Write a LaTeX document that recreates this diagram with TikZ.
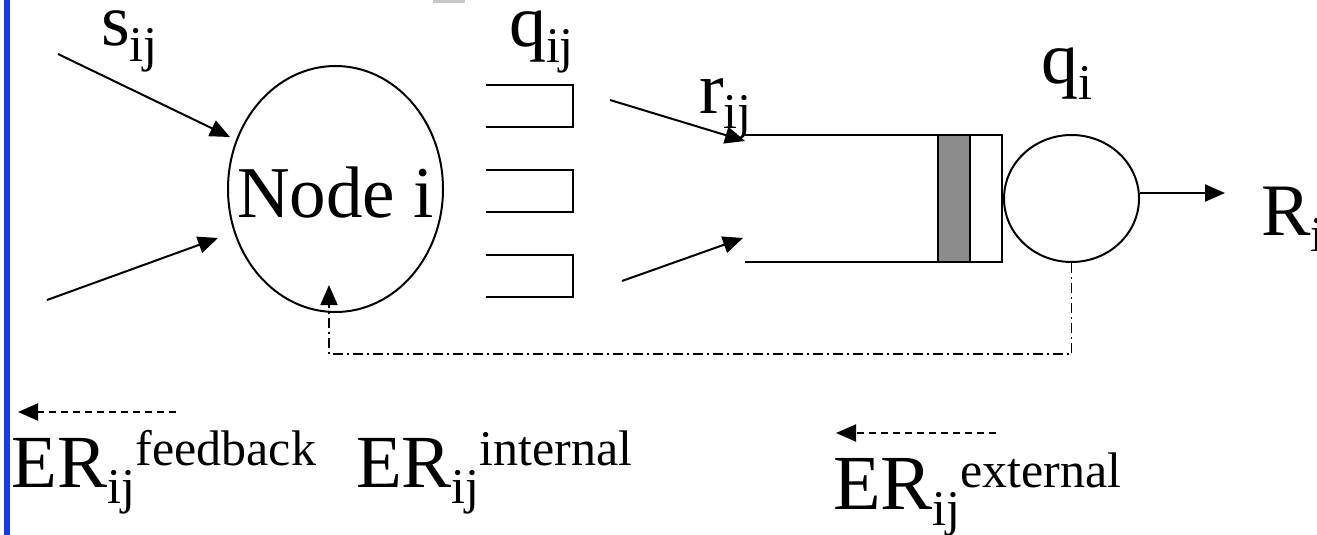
\documentclass[tikz,border=0pt]{standalone}
\usepackage{fontspec}
\setmainfont{Liberation Serif}
\usetikzlibrary{arrows.meta,shapes.geometric}
\newcommand\sbx[1]{\raisebox{-16pt}{\fontsize{50}{50}\selectfont #1}}
\newcommand\spx[1]{\raisebox{22pt}{\fontsize{50}{50}\selectfont #1}}
\definecolor{edgeblue}{RGB}{20,60,230}
\definecolor{bargray}{RGB}{140,140,140}
\definecolor{topgray}{RGB}{200,200,200}
\begin{document}
\begin{tikzpicture}[x=1pt,y=-1pt,line width=2pt,
  lbl/.style={inner sep=0pt,anchor=base west,font=\fontsize{74}{80}\selectfont},
  erlbl/.style={inner sep=0pt,anchor=base west,font=\fontsize{75}{84}\selectfont},
  arr/.style={-{Triangle[length=20pt,width=17pt]}},
  dasharr/.style={arr,dash pattern=on 7pt off 5pt},
  dashdotline/.style={dash pattern=on 10pt off 4pt on 2pt off 4pt,line width=1.8pt},
  blob/.style={ellipse,draw,inner sep=0pt}]
\useasboundingbox (0,0) rectangle (1317,535);
\fill[white] (0,0) rectangle (1317,535);
\fill[edgeblue] (4,0) rectangle (10,535);
\fill[topgray] (433,0) rectangle (465,3);
% node i
\node[blob,minimum width=215pt,minimum height=246pt] (ni) at (335.5,189) {};
\node[inner sep=0pt,anchor=base,font=\fontsize{73}{80}\selectfont] (nitext) at (335.5,217) {Node i};
% queues
\draw (486,85) -| (573,127) -- (486,127);
\draw (486,170) -| (573,212) -- (486,212);
\draw (486,255) -| (573,297) -- (486,297);
% buffer and server
\draw (745,135) -- (1002,135) -- (1002,262) -- (745,262);
\filldraw[fill=bargray] (938,135) rectangle (970,262);
\node[blob,minimum width=135pt,minimum height=127pt] (srv) at (1071.5,198.5) {};
% labels
\node[lbl] (ls) at (100,46) {s\sbx{ij}};
\node[lbl] (lq) at (508,47) {q\sbx{ij}};
\node[lbl] (lr) at (698,113) {r\sbx{ij}};
\node[lbl] (lqi) at (1040,84) {q\sbx{i}};
\node[lbl] (lR) at (1260,235) {R\sbx{i}};
\node[erlbl] (efb) at (11,487) {ER\sbx{ij}\spx{feedback}};
\node[erlbl] (ein) at (355,487) {ER\sbx{ij}\spx{internal}};
\node[erlbl,font=\fontsize{78}{84}\selectfont] (eex) at (832,509) {ER\sbx{ij}\spx{external}};
% arrows
\coordinate (sA) at (58,54); \coordinate (sB) at (230,137);
\coordinate (lA) at (47,300); \coordinate (lB) at (218,238);
\coordinate (rA) at (610,100); \coordinate (rB) at (745,141);
\coordinate (bA) at (622,281); \coordinate (bB) at (743,238);
\coordinate (oB) at (1225,193);
\coordinate (fT) at (329,285);
\coordinate (f1) at (176,412); \coordinate (f2) at (18,412);
\coordinate (x1) at (996,433); \coordinate (x2) at (836,433);
\draw[arr] (sA) -- (sB);
\draw[arr] (lA) -- (lB);
\draw[arr] (rA) -- (rB);
\draw[arr] (bA) -- (bB);
\draw[arr] (srv.east |- oB) -- (oB);
\draw[dashdotline,arr] (srv.south) -- ++(0,91) -| (fT);
\draw[dasharr] (f1) -- (f2);
\draw[dasharr] (x1) -- (x2);
\end{tikzpicture}
\end{document}
